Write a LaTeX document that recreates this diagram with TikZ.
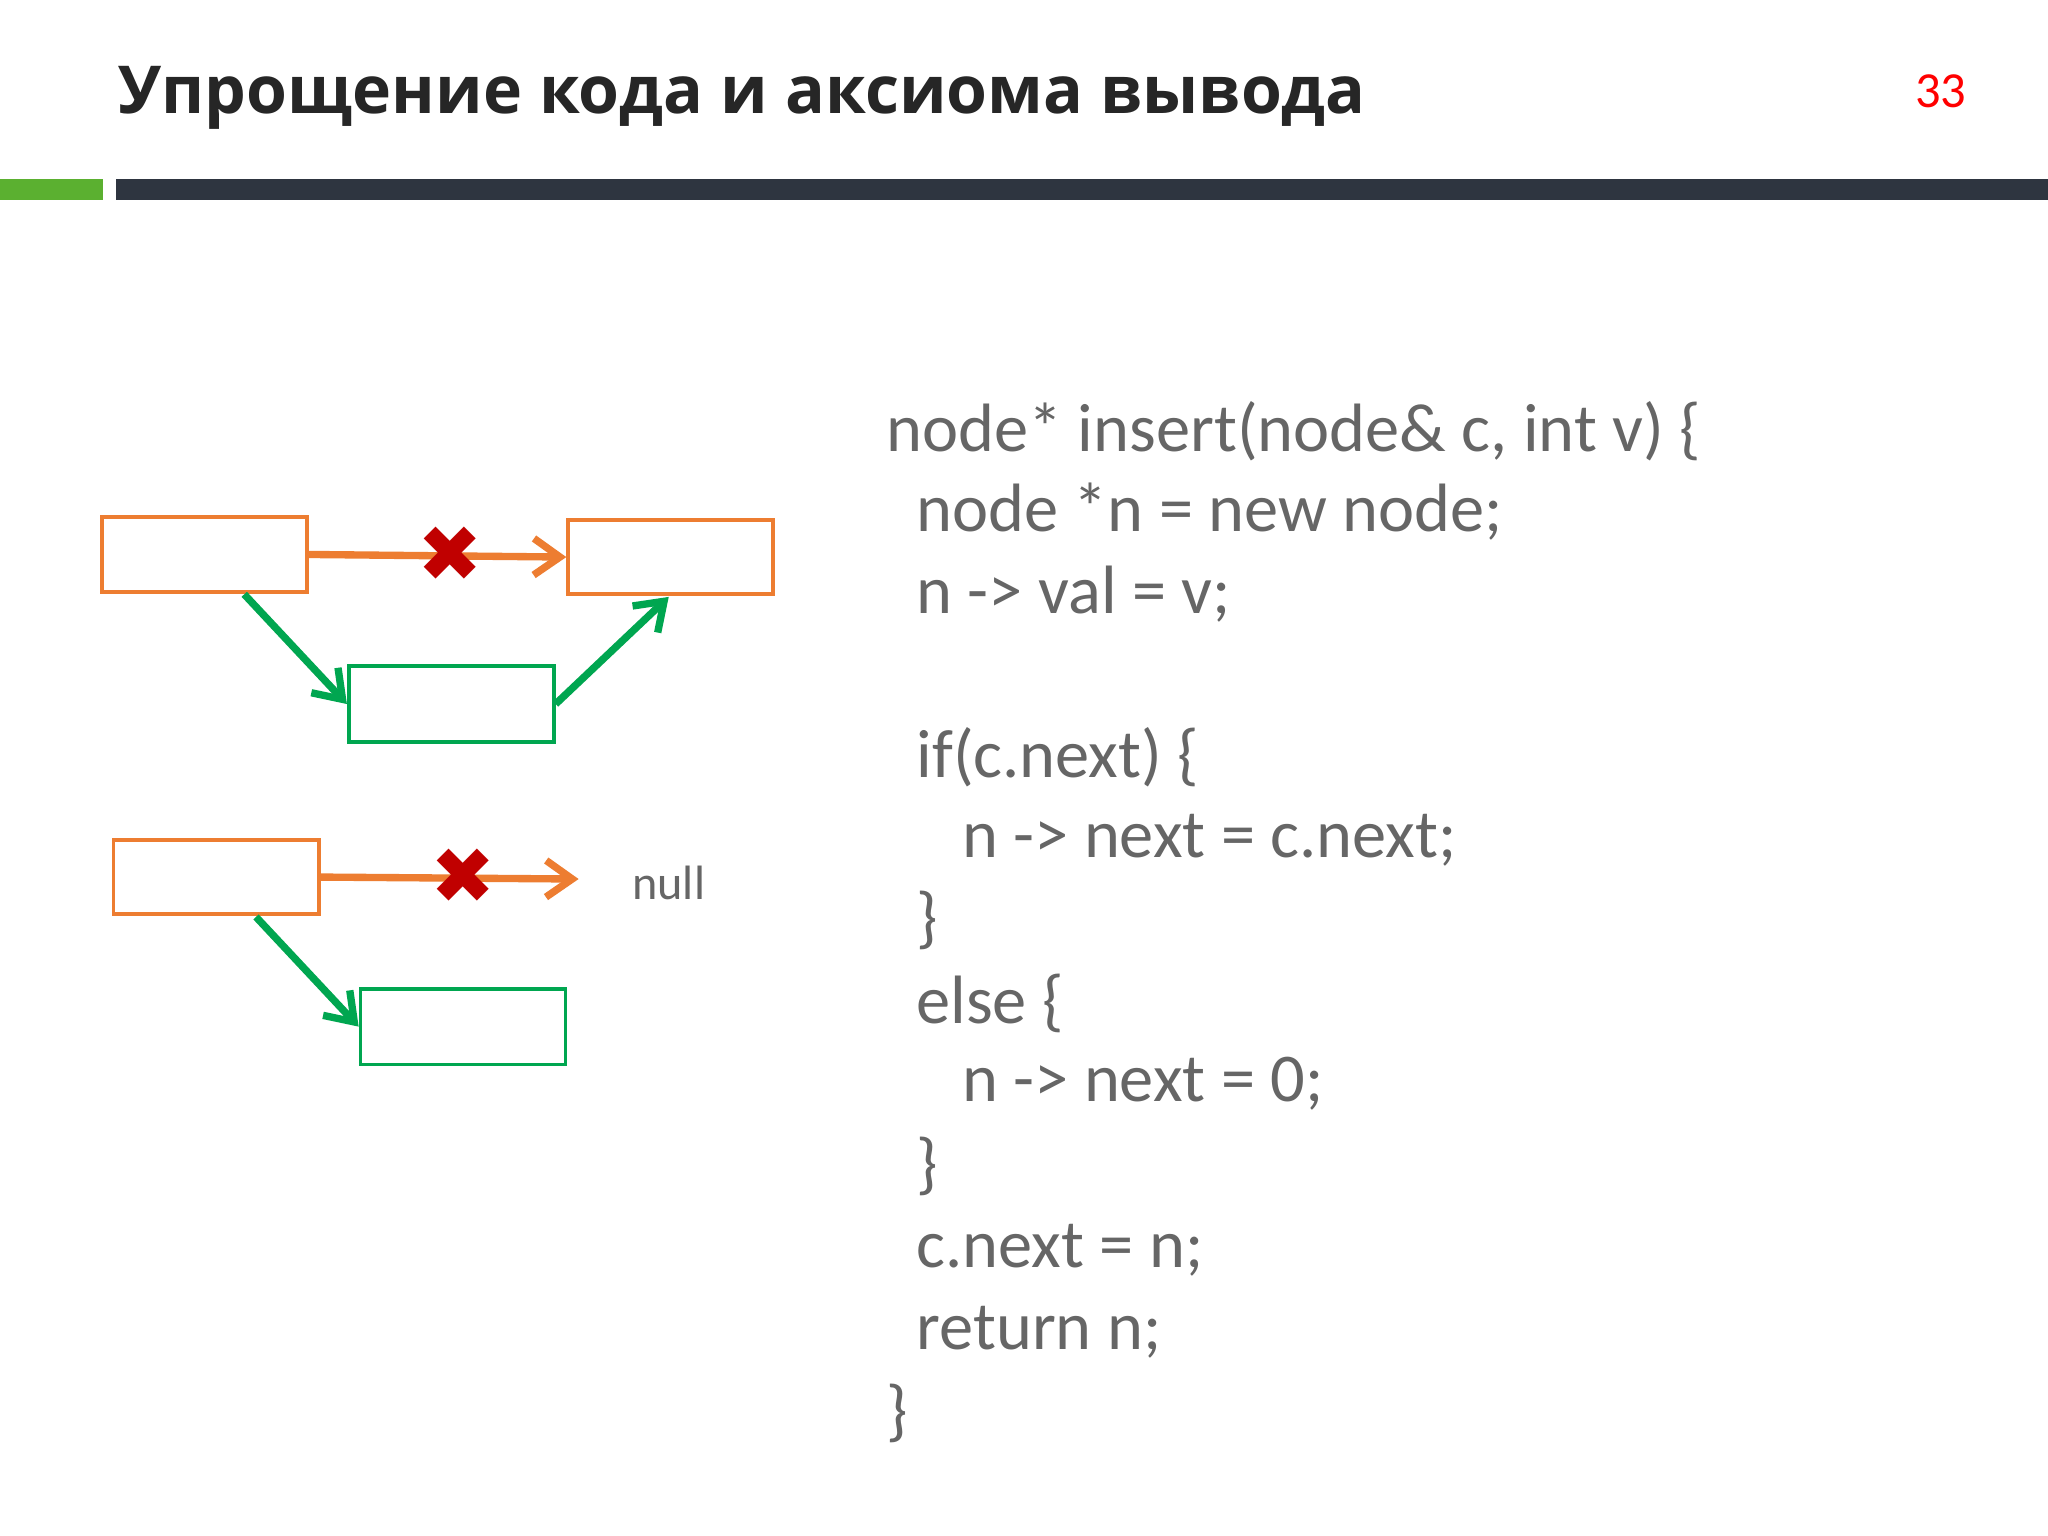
\documentclass[tikz,border=0pt]{standalone}
\usepackage{fontspec}
\setmainfont{Carlito}
\newfontfamily\titlefont{Open Sans}
\newfontfamily\symfont{DejaVu Sans}
\definecolor{ora}{HTML}{ED7D31}
\definecolor{grn}{HTML}{00A650}
\definecolor{codegray}{HTML}{666666}
\definecolor{darkbar}{HTML}{2E3540}
\definecolor{barg}{HTML}{5BB030}
\definecolor{xred}{HTML}{C00000}
\usetikzlibrary{arrows.meta}
\tikzset{
 obox/.style={draw=ora,line width=0.8pt,minimum width=15.7mm,minimum height=5.7mm,inner sep=0pt},
 gbox/.style={draw=grn,line width=0.8pt,minimum width=15.7mm,minimum height=5.8mm,inner sep=0pt},
 oarr/.style={draw=ora,line width=1.6pt,-{Straight Barb[length=2mm,width=2.8mm]}},
 garr/.style={draw=grn,line width=1.6pt,-{Straight Barb[length=2mm,width=2.8mm]}},
 xmark/.style={text=xred,font=\symfont\fontsize{17pt}{17pt}\selectfont,inner sep=0pt},
 code/.style={anchor=west,text=codegray,font=\fontsize{14.9pt}{14.9pt}\selectfont,inner sep=0pt}
}
\begin{document}
\begin{tikzpicture}[x=0.1mm,y=-0.1mm]
\useasboundingbox (0,0) rectangle (1568,1176);
\fill[white] (0,0) rectangle (1568,1176);
\node[anchor=west,inner sep=0pt,font=\titlefont\bfseries\fontsize{14.4pt}{14.4pt}\selectfont,text=black!85] (title) at (90,75) {Упрощение кода и аксиома вывода};
\node[text=red,font=\fontsize{11pt}{11pt}\selectfont,inner sep=0pt] (num) at (1486,70) {33};
\fill[barg] (0,137) rectangle (79,153);
\fill[darkbar] (89,137) rectangle (1568,153);
% diagram 1
\node[obox] (a1) at (156.5,424.5) {};
\node[obox] (b1) at (513.5,426.5) {};
\node[gbox] (c1) at (345.5,539) {};
\draw[oarr] (a1.east) -- (b1.west);
\node[xmark] (x1) at (345,424) {✖};
\coordinate (a1s) at (187,455);
\draw[garr] (a1s) -- (c1.west);
\coordinate (b1s) at (512,457);
\draw[garr] (c1.east) -- (b1s);
% diagram 2
\node[obox] (a2) at (165.5,671.5) {};
\node[gbox] (c2) at (354.5,786) {};
\node[inner sep=0pt,text=codegray,font=\fontsize{10.5pt}{10.5pt}\selectfont] (null) at (512,676) {null};
\coordinate (n2) at (443,673);
\draw[oarr] (a2.east) -- (n2);
\node[xmark] (x2) at (355,671) {✖};
\coordinate (a2s) at (196,702);
\draw[garr] (a2s) -- (c2.west);
% code
\node[code] (l1) at (678,330) {node* insert(node\& c, int v) \{};
\node[code] (l2) at (701,392) {node *n = new node;};
\node[code] (l3) at (701,455) {n -> val = v;};
\node[code] (l4) at (701,580) {if(c.next) \{};
\node[code] (l5) at (736,643) {n -> next = c.next;};
\node[code] (l6) at (701,705) {\}};
\node[code] (l7) at (701,768) {else \{};
\node[code] (l8) at (736,830) {n -> next = 0;};
\node[code] (l9) at (701,893) {\}};
\node[code] (l10) at (701,957) {c.next = n;};
\node[code] (l11) at (701,1020) {return n;};
\node[code] (l12) at (678,1082) {\}};
\end{tikzpicture}
\end{document}
